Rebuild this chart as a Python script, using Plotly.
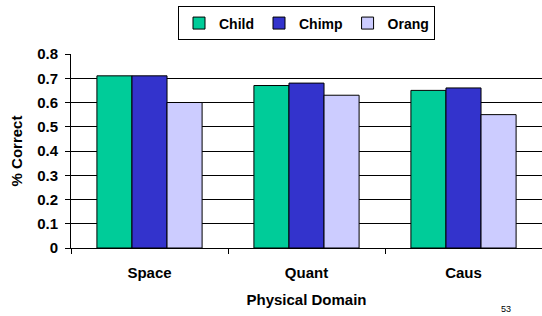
import plotly.graph_objects as go

categories = ["Space", "Quant", "Caus"]
child = [0.71, 0.67, 0.65]
chimp = [0.71, 0.68, 0.66]
orang = [0.60, 0.63, 0.55]
y_ticks = [0, 0.1, 0.2, 0.3, 0.4, 0.5, 0.6, 0.7, 0.8]
y_tick_labels = ["0", "0.1", "0.2", "0.3", "0.4", "0.5", "0.6", "0.7", "0.8"]

FONT = "Liberation Sans, Arial, sans-serif"

fig = go.Figure()
for name, vals, col in [("Child", child, "#00CC99"), ("Chimp", chimp, "#3333CC"), ("Orang", orang, "#CCCCFF")]:
    fig.add_trace(go.Bar(x=categories, y=vals, name=name,
                         marker=dict(color=col, line=dict(color="black", width=1))))

fig.update_layout(
    width=542, height=316,
    margin=dict(l=71, r=0, t=54, b=68, autoexpand=False),
    paper_bgcolor="white", plot_bgcolor="white",
    barmode="group", bargap=0.33, bargroupgap=0,
    font=dict(family=FONT, color="black", size=15),
    showlegend=True,
    legend=dict(orientation="h", x=0.5, xanchor="center", y=1.245, yanchor="top",
                bordercolor="black", borderwidth=1, bgcolor="white",
                font=dict(size=14, weight="bold"), itemwidth=30, tracegroupgap=0),
    xaxis=dict(range=[-0.5, 2.5], showline=True, linecolor="black", linewidth=1,
               ticks="outside", tickson="boundaries", ticklen=5, tickcolor="black",
               tickfont=dict(size=15, weight="bold"), ticklabelstandoff=11,
               title=dict(text="Physical Domain", font=dict(size=15, weight="bold"), standoff=14)),
    yaxis=dict(range=[0, 0.8], tickvals=y_ticks, ticktext=y_tick_labels,
               showline=True, linecolor="black", linewidth=1,
               ticks="outside", ticklen=5, tickcolor="black",
               showgrid=True, gridcolor="black", gridwidth=1,
               tickfont=dict(size=15, weight="bold"), ticklabelstandoff=4,
               title=dict(text="% Correct", font=dict(size=15, weight="bold"), standoff=10)),
    annotations=[dict(text="53", xref="paper", yref="paper", x=0.938, y=-0.3505,
                      yanchor="bottom", showarrow=False, font=dict(size=9, weight="normal"))],
)

fig.write_html("out.html", config={"displayModeBar": False},
               post_script="document.body.style.margin='0';")
